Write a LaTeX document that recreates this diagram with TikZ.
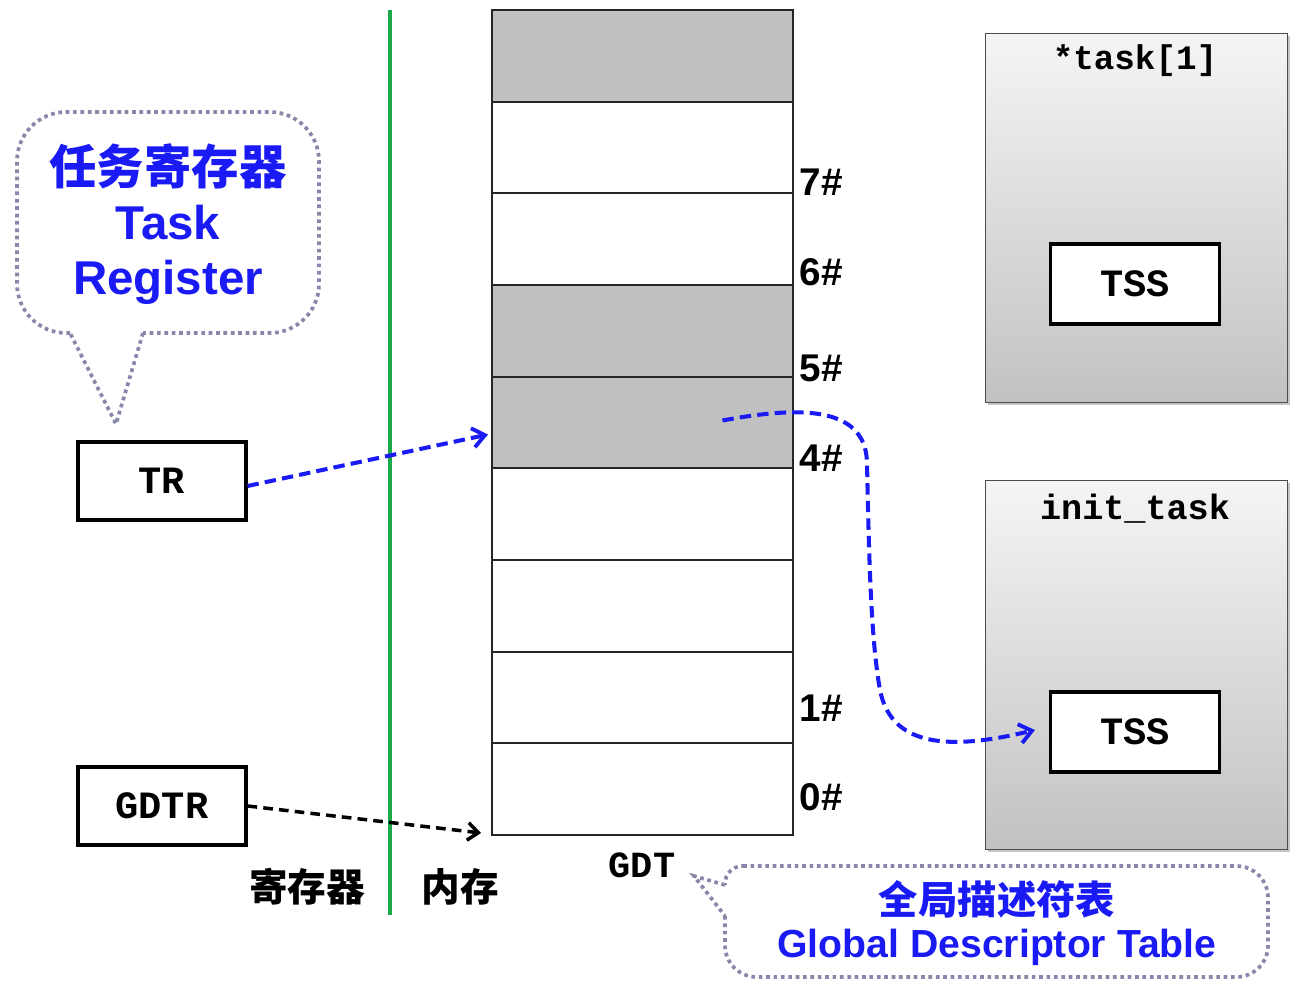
\documentclass[tikz,border=0pt]{standalone}
\usepackage{fontspec}
\setmainfont{Liberation Sans}
\setmonofont{Liberation Mono}
\newfontfamily\cjk{Noto Sans CJK SC}
\usetikzlibrary{arrows.meta,shadows,calc}
\definecolor{gblue}{RGB}{26,26,245}
\definecolor{gline}{RGB}{26,170,74}
\definecolor{callgray}{RGB}{135,135,170}
\definecolor{rowgray}{RGB}{192,192,192}
\begin{document}
\begin{tikzpicture}[x=0.02cm,y=-0.02cm,
  row/.style={draw=black!85, line width=1pt, fill=white, minimum width=6.02cm, minimum height=1.8333cm, inner sep=0pt, outer sep=0pt, anchor=north west},
  grayrow/.style={row, fill=rowgray},
  num/.style={font=\fontsize{22}{24}\selectfont\bfseries},
  regbox/.style={draw=black, line width=1.8pt, fill=white, minimum width=3.36cm, minimum height=1.56cm, inner sep=0pt, font=\fontsize{22}{24}\selectfont\ttfamily\bfseries},
  taskbox/.style={draw=black!70, line width=0.6pt, top color=gray!8, bottom color=gray!48, minimum width=6.04cm, minimum height=7.38cm, anchor=north west, inner sep=0pt, drop shadow={shadow xshift=1.2pt, shadow yshift=-1.2pt, opacity=0.45}},
  tssbox/.style={draw=black, line width=1.8pt, fill=white, minimum width=3.38cm, minimum height=1.6cm, inner sep=0pt, font=\fontsize{22}{24}\selectfont\ttfamily\bfseries},
  callout/.style={draw=callgray, line width=2.1pt, dash pattern=on 2.1pt off 2.1pt},
  bluetxt/.style={text=gblue, font=\bfseries},
  bluearrow/.style={draw=gblue, line width=2.3pt, dash pattern=on 6.5pt off 3.5pt, -{Straight Barb[length=7pt,width=11pt,line width=2.2pt]}},
  blackarrow/.style={draw=black, line width=2pt, dash pattern=on 5.5pt off 3.5pt, -{Straight Barb[length=6pt,width=10pt,line width=2pt]}},
  cjklabel/.style={font=\fontsize{22}{24}\selectfont\cjk\bfseries}
]
\useasboundingbox (0,0) rectangle (1316,990);

% divider
\draw[gline, line width=2.3pt] (390,10) -- (390,915);

% GDT rows
\foreach \i in {0,...,8}{
  \ifnum\i=0 \node[grayrow] (r\i) at (492,{10+\i*91.667}) {};
  \else\ifnum\i=3 \node[grayrow] (r\i) at (492,{10+\i*91.667}) {};
  \else\ifnum\i=4 \node[grayrow] (r\i) at (492,{10+\i*91.667}) {};
  \else \node[row] (r\i) at (492,{10+\i*91.667}) {};
  \fi\fi\fi
}

% index labels
\node[num] (l7) at (821,182) {7\#};
\node[num] (l6) at (821,272) {6\#};
\node[num] (l5) at (821,368) {5\#};
\node[num] (l4) at (821,458) {4\#};
\node[num] (l1) at (821,708) {1\#};
\node[num] (l0) at (821,797) {0\#};

\node[font=\fontsize{21}{24}\selectfont\ttfamily\bfseries] (gdt) at (642,865) {GDT};

% registers
\node[regbox] (tr) at (162,481) {TR};
\node[regbox] (gdtr) at (162,806) {GDTR};

% bottom labels
\node[cjklabel] (reg) at (307,887) {寄存器};
\node[cjklabel] (mem) at (460,887) {内存};

% task boxes
\node[taskbox] (t1) at (985,33) {};
\node[font=\fontsize{19.5}{22}\selectfont\ttfamily\bfseries] (t1title) at (1135,61) {*task[1]};
\node[tssbox] (tss1) at (1135,284) {TSS};

\node[taskbox] (t0) at (985,480) {};
\node[font=\fontsize{20}{22}\selectfont\ttfamily\bfseries] (t0title) at (1135,509) {init\_task};
\node[tssbox] (tss0) at (1135,732) {TSS};

% callout 1 (Task Register)
\draw[callout, rounded corners=28pt] (70,333) -- (17,333) -- (17,112) -- (319,112) -- (319,333) -- (143,333);
\draw[callout] (143,333) -- (116,424) -- (70,333);
\node[bluetxt, font=\fontsize{27}{30}\selectfont\cjk\bfseries] (c1a) at (168,166) {任务寄存器};
\node[bluetxt, font=\fontsize{27}{30}\selectfont\bfseries] (c1b) at (168,223) {Task};
\node[bluetxt, font=\fontsize{27}{30}\selectfont\bfseries] (c1c) at (168,282) {Register};

% callout 2 (GDT)
\draw[callout, rounded corners=18pt] (725,916) -- (725,977) -- (1268,977) -- (1268,866) -- (745,866);
\draw[callout, rounded corners=10pt] (745,866) -- (725,866) -- (725,885);
\draw[callout] (725,885) -- (694,876) -- (725,916);
\node[bluetxt, font=\fontsize{22.4}{26}\selectfont\cjk\bfseries] (c2a) at (997,899) {全局描述符表};
\node[bluetxt, font=\fontsize{22.3}{26}\selectfont\bfseries] (c2b) at (997,947) {Global Descriptor Table};

% arrows
\draw[bluearrow] ($(tr.east)+(0,5)$) -- ($(r4.west)+(-4,12)$);
\draw[blackarrow] (gdtr.east) -- ($(r8.south west)+(-11,-2)$);
\draw[bluearrow] ($(r4.center)+(80,-2)$) .. controls (790,408) and (865,402) .. (867,462)
   .. controls (869,560) and (871,640) .. (880,690)
   .. controls (892,752) and (960,748) .. ($(tss0.west)+(-14,-2)$);
\end{tikzpicture}
\end{document}
